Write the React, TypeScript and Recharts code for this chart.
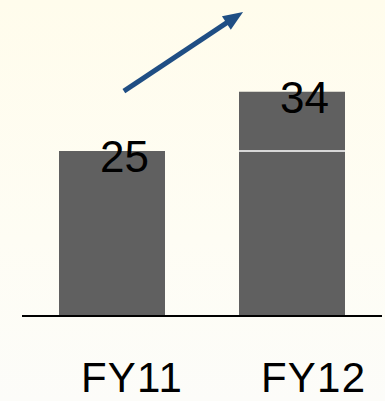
import React from 'react';
import { BarChart, Bar, XAxis, YAxis, ReferenceLine, LabelList } from 'recharts';

// Fiscal years and revenue figures
const years = ['FY11', 'FY12'];
const baseValues = [25, 25];
const growthValues = [0, 9];
const totals = [25, 34];

// Trend arrow endpoints: x as a fraction of the plot width, y in value units
const arrowFrom = { x: 0.283, y: 34.1 };
const arrowTo = { x: 0.614, y: 46.1 };

const data = years.map((year, i) => ({
  year,
  base: baseValues[i],
  growth: growthValues[i],
  total: totals[i],
}));

const FONT = '"Liberation Sans", Arial, Helvetica, sans-serif';
const BAR_COLOR = '#606060';

const GrowthShape = (props: any) => {
  const { x, y, width, height } = props;
  if (!height || height <= 0) return null;
  return (
    <g>
      <rect x={x} y={y} width={width} height={height} fill={BAR_COLOR} />
      <line x1={x} x2={x + width} y1={y + height} y2={y + height} stroke="#ffffff" strokeWidth={1.5} />
    </g>
  );
};

const TotalLabel = (props: any) => {
  const { x, y, width, value } = props;
  const cx = x + width / 2;
  return (
    <text x={cx - 12} y={y + 21} textAnchor="start" fontFamily={FONT} fontSize={44} fill="#000">
      {value}
    </text>
  );
};

const YearTick = (props: any) => {
  const { x, payload } = props;
  return (
    <text
      x={x - 31}
      y={392}
      textAnchor="start"
      fontFamily={FONT}
      fontSize={42}
      letterSpacing={1.2}
      fill="#000"
    >
      {payload.value}
    </text>
  );
};

const TrendArrow = (props: any) => {
  const { x1, y1, x2, y2 } = props;
  const dx = x2 - x1;
  const dy = y2 - y1;
  const len = Math.sqrt(dx * dx + dy * dy);
  const ux = dx / len;
  const uy = dy / len;
  const head = 20;
  const half = 8;
  const bx = x2 - ux * head;
  const by = y2 - uy * head;
  const px = -uy;
  const py = ux;
  const color = '#1F4E84';
  return (
    <g>
      <line x1={x1} y1={y1} x2={bx + ux * 2} y2={by + uy * 2} stroke={color} strokeWidth={5} />
      <polygon
        points={`${x2},${y2} ${bx + px * half},${by + py * half} ${bx - px * half},${by - py * half}`}
        fill={color}
      />
    </g>
  );
};

export default function App() {
  return (
    <div
      style={{
        position: 'absolute',
        left: 0,
        top: 0,
        width: 385,
        height: 401,
        background: 'linear-gradient(to bottom, #FFFCEC 0%, #FEFDF4 60%, #FCFCF9 100%)',
      }}
    >
      <BarChart width={385} height={401} data={data} margin={{ top: 6, right: 3, left: 22, bottom: 0 }}>
        <XAxis
          dataKey="year"
          height={85}
          axisLine={{ stroke: '#000', strokeWidth: 2 }}
          tickLine={false}
          tick={<YearTick />}
          interval={0}
        />
        <XAxis xAxisId="pos" type="number" domain={[0, 1]} allowDataOverflow hide />
        <YAxis hide domain={[0, 47]} />
        <Bar dataKey="base" stackId="s" fill={BAR_COLOR} barSize={106} isAnimationActive={false} />
        <Bar dataKey="growth" stackId="s" fill={BAR_COLOR} barSize={106} shape={<GrowthShape />} isAnimationActive={false}>
          <LabelList dataKey="total" content={<TotalLabel />} />
        </Bar>
        <ReferenceLine
          xAxisId="pos"
          segment={[arrowFrom, arrowTo]}
          ifOverflow="visible"
          shape={<TrendArrow />}
        />
      </BarChart>
    </div>
  );
}
